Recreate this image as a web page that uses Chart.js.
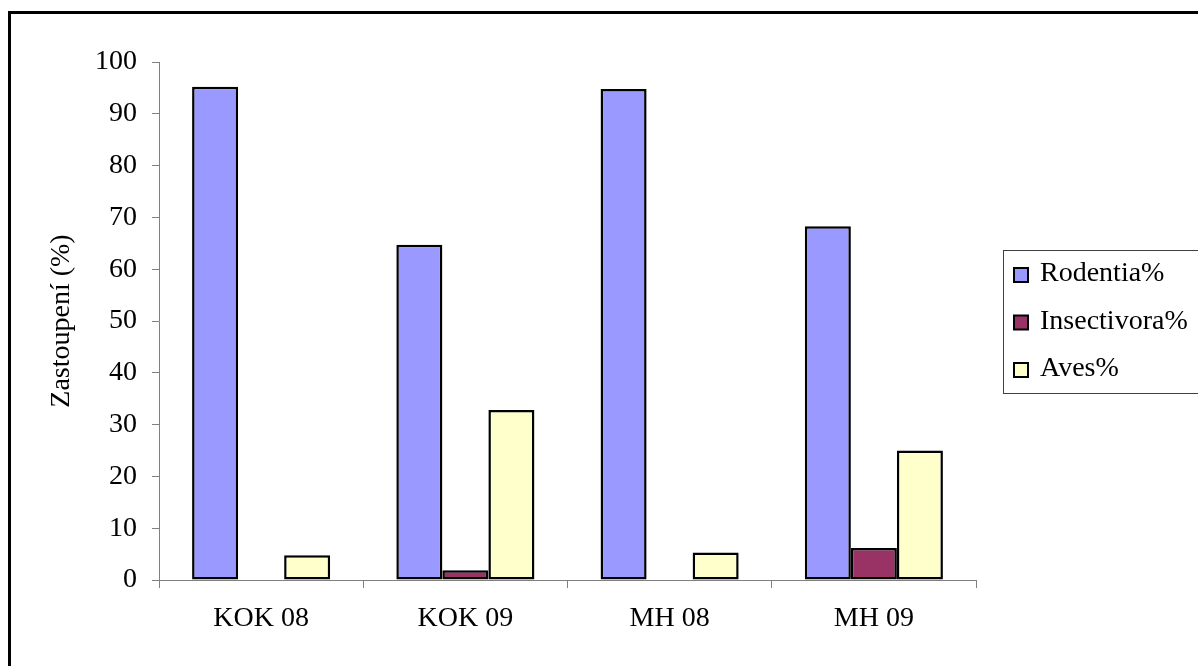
<!DOCTYPE html>
<html>
<head>
<meta charset="utf-8">
<script src="https://cdn.jsdelivr.net/npm/chart.js@4.4.1/dist/chart.umd.min.js"></script>
<style>
  html, body { margin: 0; padding: 0; background: #ffffff; }
  #wrap { position: relative; width: 1198px; height: 666px; overflow: hidden; }
  canvas { display: block; }
</style>
</head>
<body>
<div id="wrap"><canvas id="chart" width="1198" height="666"></canvas></div>
<script>
// Categories (sites and years)
const categories = ['KOK 08', 'KOK 09', 'MH 08', 'MH 09'];

// Share of prey groups, in percent
const rodentia    = [95.2, 64.7, 94.8, 68.3];
const insectivora = [0, 1.9, 0, 6.2];
const aves        = [4.8, 32.8, 5.3, 25.0];

const seriesNames = ['Rodentia%', 'Insectivora%', 'Aves%'];
const yTitle = 'Zastoupení (%)';

const FONT = 'Liberation Serif, "Times New Roman", serif';
const AXIS_GREY = '#808080';

// Outer frame of the whole picture (right and bottom edges fall outside the canvas)
const framePlugin = {
  id: 'frame',
  beforeDraw(chart) {
    const ctx = chart.ctx;
    ctx.save();
    ctx.fillStyle = '#ffffff';
    ctx.fillRect(0, 0, chart.width, chart.height);
    ctx.strokeStyle = '#000000';
    ctx.lineWidth = 3;
    ctx.strokeRect(9.5, 12.5, chart.width + 20, chart.height + 20);
    ctx.restore();
  }
};

// Boxed key on the right side, built from the datasets
const sideKeyPlugin = {
  id: 'sideKey',
  afterDraw(chart) {
    const ctx = chart.ctx;
    const box = { x: 1003.5, y: 250.5, w: 260, h: 143 };
    ctx.save();
    ctx.strokeStyle = '#404040';
    ctx.lineWidth = 1;
    ctx.strokeRect(box.x, box.y, box.w, box.h);
    ctx.font = '28px ' + FONT;
    ctx.textBaseline = 'middle';
    ctx.textAlign = 'left';
    chart.data.datasets.forEach((ds, i) => {
      const cy = 275 + i * 47.5;
      ctx.fillStyle = ds.backgroundColor;
      ctx.fillRect(1014, cy - 7, 14, 14);
      ctx.strokeStyle = '#000000';
      ctx.lineWidth = 2;
      ctx.strokeRect(1014, cy - 7, 14, 14);
      ctx.fillStyle = '#000000';
      ctx.fillText(ds.label, 1040, cy - 1);
    });
    ctx.restore();
  }
};

const barStyle = {
  borderColor: '#000000',
  borderWidth: 2.5,
  borderSkipped: false,
  categoryPercentage: 0.676,
  barPercentage: 1.0
};

new Chart(document.getElementById('chart'), {
  type: 'bar',
  data: {
    labels: categories,
    datasets: [
      Object.assign({ label: seriesNames[0], data: rodentia,    backgroundColor: '#9999FF' }, barStyle),
      Object.assign({ label: seriesNames[1], data: insectivora, backgroundColor: '#993366' }, barStyle),
      Object.assign({ label: seriesNames[2], data: aves,        backgroundColor: '#FFFFCC' }, barStyle)
    ]
  },
  options: {
    responsive: false,
    animation: false,
    devicePixelRatio: 1,
    layout: { padding: { top: 62, right: 222, bottom: 26, left: 0 } },
    plugins: {
      legend: { display: false },
      tooltip: { enabled: false }
    },
    scales: {
      x: {
        grid: { offset: true, drawOnChartArea: false, drawTicks: true, tickLength: 8, color: AXIS_GREY, lineWidth: 1 },
        border: { color: AXIS_GREY, width: 1 },
        ticks: { color: '#000000', padding: 14, font: { family: FONT, size: 28 } },
        afterFit(scale) { scale.height = 60; }
      },
      y: {
        min: 0,
        max: 100,
        grid: { drawOnChartArea: false, drawTicks: true, tickLength: 7, color: AXIS_GREY, lineWidth: 1 },
        border: { color: AXIS_GREY, width: 1 },
        ticks: { stepSize: 10, color: '#000000', padding: 15, font: { family: FONT, size: 28 } },
        title: {
          display: true,
          text: yTitle,
          color: '#000000',
          font: { family: FONT, size: 28 },
          padding: { top: 45, bottom: 0 }
        },
        afterFit(scale) { scale.width = 159; }
      }
    }
  },
  plugins: [framePlugin, sideKeyPlugin]
});
</script>
</body>
</html>
